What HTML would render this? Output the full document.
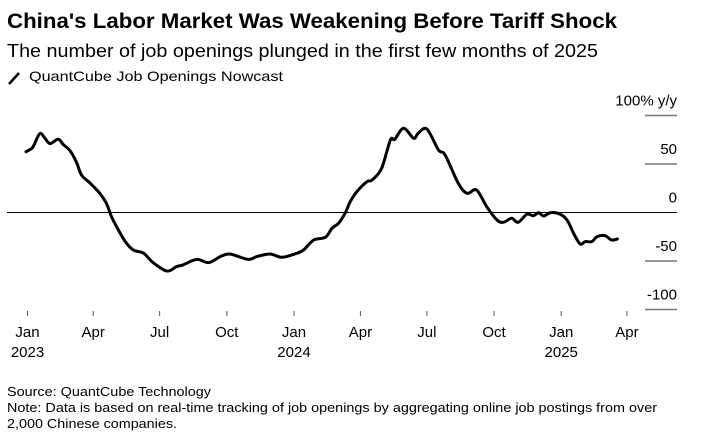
<!DOCTYPE html>
<html><head><meta charset="utf-8"><style>
html,body{margin:0;padding:0;background:#fff;}
svg{display:block;font-family:"Liberation Sans",Arial,sans-serif;}
</style></head><body>
<svg id="chart" width="707" height="445" viewBox="0 0 707 445" xmlns="http://www.w3.org/2000/svg">
<text x="7" y="28" font-size="21" font-weight="bold" textLength="610" lengthAdjust="spacingAndGlyphs">China's Labor Market Was Weakening Before Tariff Shock</text>
<text x="7" y="57" font-size="18" textLength="591" lengthAdjust="spacingAndGlyphs">The number of job openings plunged in the first few months of 2025</text>
<g>
<line x1="9" y1="84" x2="19" y2="73" stroke="#000" stroke-width="2.5"/>
<text x="29" y="81" font-size="14" textLength="254" lengthAdjust="spacingAndGlyphs">QuantCube Job Openings Nowcast</text>
</g>
<g id="yaxis"></g>
<g id="xaxis"></g>
<g id="series"></g>
<text x="7" y="396" font-size="12.5" textLength="204" lengthAdjust="spacingAndGlyphs">Source: QuantCube Technology</text>
<text x="7" y="412" font-size="12.5" textLength="650" lengthAdjust="spacingAndGlyphs">Note: Data is based on real-time tracking of job openings by aggregating online job postings from over</text>
<text x="7" y="428" font-size="12.5" textLength="170" lengthAdjust="spacingAndGlyphs">2,000 Chinese companies.</text>
</svg>
<script>
const days = [-2,7,13,18,24,31,42,49,58,67,74,86,99,108,115,122,134,145,159,172,191,204,213,232,248,264,277,302,314,332,348,366,378,392,408,417,426,435,442,451,465,472,485,497,503,515,529,535,547,563,572,590,602,615,629,643,652,663,672,684,693,700,707,716,729,739,748,757,764,773,780,791,800,808];
const values = [62.7,67,76.5,81.6,76.5,71,75.5,70,64,52,38.7,30.1,19.8,9.5,-4.3,-14.6,-30,-38.7,-42,-51.7,-60.3,-55.9,-54,-48.3,-51.7,-45.5,-42.8,-48.3,-45.5,-42.8,-46.2,-42.8,-38.7,-28.4,-25.6,-16.3,-11.1,-0.8,11.1,21.4,31.8,33.5,45.5,74.7,75.4,86.8,76.5,81.6,86,64.4,59.3,30.1,19.8,23.2,6,-7.7,-10.1,-6,-10.1,-1.9,-3.3,-0.2,-3.6,-0.2,-1.5,-7.7,-21.4,-32.5,-30,-30,-25,-23.9,-28.4,-27.3];
const yTicks = [100,50,0,-50,-100];
const yTickLabels = ["100% y/y","50","0","-50","-100"];
const xTickDays = [0,90,181,273,365,456,547,639,731,821];
const xTickMonths = ["Jan","Apr","Jul","Oct","Jan","Apr","Jul","Oct","Jan","Apr"];
const xTickYears = ["2023","","","","2024","","","","2025",""];

const NS="http://www.w3.org/2000/svg";
function xS(d){return 27.5 + d*0.7301;}
function yS(v){return 212.5 - v*0.97;}
function mk(tag,attrs,parent){const e=document.createElementNS(NS,tag);for(const k in attrs)e.setAttribute(k,attrs[k]);parent.appendChild(e);return e;}

const ya=document.getElementById('yaxis');
yTicks.forEach((t,i)=>{
  const y=yS(t);
  const isZero=t===0;
  const ln=mk('line',{x1:isZero?7:645,x2:677,y1:y,y2:y,stroke:isZero?'#000':'#777','stroke-width':isZero?1:1.5},ya);
  
  
  const tx=mk('text',{x:677,y:y-10,'text-anchor':'end','font-size':15},ya);
  tx.textContent=yTickLabels[i];
  
  
});

const xa=document.getElementById('xaxis');
xTickDays.forEach((d,i)=>{
  const x=xS(d);
  const tk=mk('line',{x1:x,x2:x,y1:311,y2:316,stroke:'#555','stroke-width':1},xa);
  
  
  const t1=mk('text',{x:x,y:337,'text-anchor':'middle','font-size':15},xa);
  t1.textContent=xTickMonths[i];
  
  
  if(xTickYears[i]){
    const t2=mk('text',{x:x,y:357,'text-anchor':'middle','font-size':15},xa);
    t2.textContent=xTickYears[i];
    
    
  }
});

const sg=document.getElementById('series');
const pts=days.map((d,i)=>[xS(d),yS(values[i])]);
let dstr='M'+pts[0][0].toFixed(1)+' '+pts[0][1].toFixed(1);
for(let i=0;i<pts.length-1;i++){
  const p0=pts[Math.max(0,i-1)],p1=pts[i],p2=pts[i+1],p3=pts[Math.min(pts.length-1,i+2)];
  const c1=[p1[0]+(p2[0]-p0[0])/6,p1[1]+(p2[1]-p0[1])/6];
  const c2=[p2[0]-(p3[0]-p1[0])/6,p2[1]-(p3[1]-p1[1])/6];
  dstr+=' C'+c1[0].toFixed(1)+' '+c1[1].toFixed(1)+' '+c2[0].toFixed(1)+' '+c2[1].toFixed(1)+' '+p2[0].toFixed(1)+' '+p2[1].toFixed(1);
}
const p=mk('path',{d:dstr,fill:'none',stroke:'#000','stroke-width':3,'stroke-linejoin':'round','stroke-linecap':'round'},sg);


</script>
</body></html>
